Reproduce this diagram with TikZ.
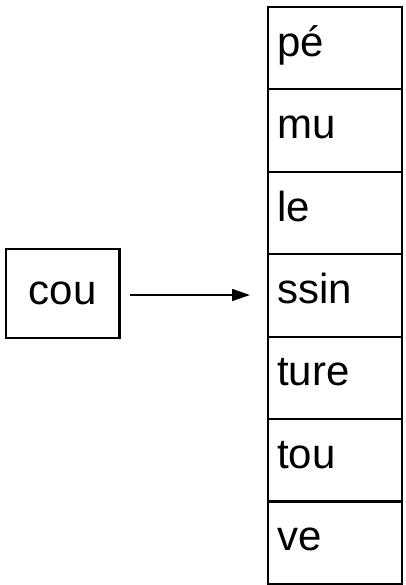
\documentclass[tikz,border=0pt]{standalone}
\usepackage{fontspec}
\setmainfont{Liberation Sans}
\usetikzlibrary{arrows.meta}
\begin{document}
\begin{tikzpicture}[x=1pt,y=-1pt,
  cellbox/.style={draw,line width=2.2pt,minimum width=134pt,minimum height=82.4pt,inner sep=0pt,outer sep=0pt},
  celltext/.style={anchor=base west,inner sep=0pt,font=\fontsize{42}{42}\selectfont},
  srcbox/.style={draw,line width=2.2pt,minimum width=113.5pt,minimum height=89pt,inner sep=0pt,font=\fontsize{42}{42}\selectfont},
  conn/.style={line width=1.6pt,-{Triangle[length=18pt,width=12pt]}}]
\useasboundingbox (0,0) rectangle (406,585);
\foreach \t [count=\i] in {pé,mu,le,ssin,ture,tou,ve}{
  \node[cellbox] (c\i) at (335,{7+82.4*(\i-0.5)}) {};
  \node[celltext] (t\i) at (277,{7+82.4*(\i-0.5)+8}) {\t};
}
\node[srcbox] (cou) at (62.75,293.5) {cou};
\draw[conn] ([xshift=9pt]cou.east |- 0,295) coordinate (a) -- (250,295) coordinate (b);
\end{tikzpicture}
\end{document}
